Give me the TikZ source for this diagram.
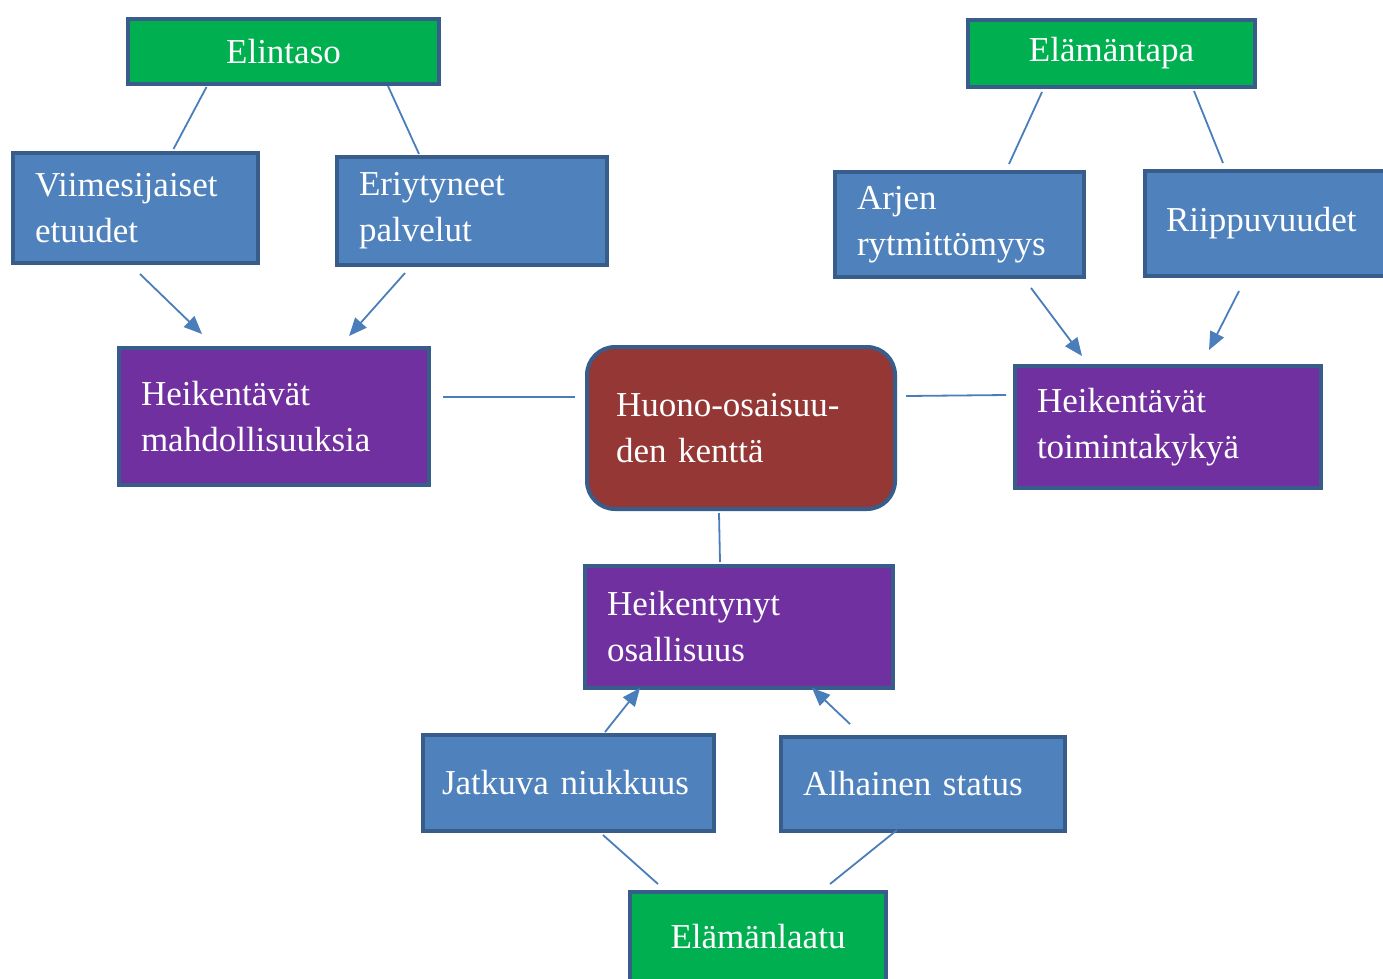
\documentclass[tikz,border=0pt]{standalone}
\usepackage{fontspec}
\setmainfont{Liberation Serif}
\usetikzlibrary{arrows.meta,calc}
\definecolor{frame}{HTML}{385D8A}
\definecolor{conn}{HTML}{4A7EBB}
\definecolor{bgreen}{HTML}{00B050}
\definecolor{bblue}{HTML}{4F81BD}
\definecolor{bpurple}{HTML}{7030A0}
\definecolor{bred}{HTML}{953735}

\begin{document}
\begin{tikzpicture}[x=1pt,y=-1pt,
    box/.style={draw=frame, line width=4pt, text=white, inner xsep=22pt, inner ysep=0pt,
        font=\fontsize{35}{46}\selectfont},
    topbox/.style={box, fill=bgreen, align=center},
    subbox/.style={box, fill=bblue, align=left},
    effbox/.style={box, fill=bpurple, align=left},
    link/.style={conn, line width=1.8pt},
    arr/.style={link, -{Triangle[length=18pt,width=15pt]}}]

    \useasboundingbox (0,0) rectangle (1383,978);

    \node[topbox, minimum width=311pt, minimum height=65pt] (elintaso) at (283.5,51.5) {Elintaso};
    \node[subbox, minimum width=245pt, minimum height=110pt, text width=201pt] (viim) at (135.5,208) {Viimesijaiset\\etuudet};
    \node[subbox, minimum width=270pt, minimum height=108pt, text width=226pt] (eriy) at (472,211) {Eriytyneet\\palvelut};
    \node[effbox, minimum width=310pt, minimum height=137pt, text width=266pt] (mahd) at (274,416.5) {Heikentävät\\mahdollisuuksia};

    \node[box, fill=bred, rounded corners=28pt, align=left, inner xsep=29pt,
          minimum width=308pt, minimum height=162pt, text width=250pt] (kentta) at (741,428) {Huono-osaisuu-\\den kenttä};

    \node[topbox, minimum width=287pt, minimum height=67pt] (tapa) at (1111.5,53.5) {Elämäntapa};
    \node[subbox, minimum width=249pt, minimum height=105pt, text width=205pt] (arjen) at (959.5,224.5) {Arjen\\rytmittömyys};
    \node[subbox, minimum width=250pt, minimum height=105pt, text width=208pt, inner xsep=21pt] (riipp) at (1270,223.5) {Riippuvuudet};
    \node[effbox, minimum width=306pt, minimum height=122pt, text width=262pt] (toim) at (1168,427) {Heikentävät\\toimintakykyä};

    \node[effbox, minimum width=308pt, minimum height=122pt, text width=264pt] (osall) at (739,627) {Heikentynyt\\osallisuus};
    \node[subbox, minimum width=291pt, minimum height=96pt, text width=253pt, inner xsep=19pt] (niuk) at (568.5,783) {Jatkuva niukkuus};
    \node[subbox, minimum width=284pt, minimum height=94pt, text width=240pt] (status) at (923,784) {Alhainen status};
    \node[topbox, minimum width=256pt, minimum height=90pt] (laatu) at (758,937) {Elämänlaatu};

    % elintaso
    \draw[link] ($(elintaso.south)+(-77,1)$) -- ($(viim.north)+(38,-2)$);
    \draw[link] ($(elintaso.south)+(104.5,0)$) -- ($(eriy.north)+(-53,-1)$);
    \draw[arr] ($(viim.south)+(4.5,9)$) -- ($(mahd.north)+(-72,-12)$);
    \draw[arr] ($(eriy.south)+(-67,6)$) -- ($(mahd.north)+(75,-10)$);
    \draw[link] ($(mahd.east)+(12,-19.5)$) -- ($(kentta.west)+(-10,-31)$);

    % elamantapa
    \draw[link] ($(tapa.south)+(-69.5,3)$) -- ($(arjen.north)+(49.5,-6)$);
    \draw[link] ($(tapa.south)+(82.5,2)$) -- ($(riipp.north)+(-47,-6)$);
    \draw[arr] ($(arjen.south)+(71.5,9)$) -- ($(toim.north)+(-86,-8)$);
    \draw[arr] ($(riipp.south)+(-31,13)$) -- ($(toim.north)+(41,-14)$);
    \draw[link] ($(kentta.east)+(9,-32)$) -- ($(toim.west)+(-7,-32)$);

    % elamanlaatu
    \draw[link] ($(kentta.south)+(-22,2)$) -- ($(osall.north)+(-19,-2)$);
    \draw[arr] ($(niuk.north)+(36.5,-1)$) -- ($(osall.south)+(-99,-2)$);
    \draw[arr] ($(status.north)+(-73,-11)$) -- ($(osall.south)+(73,-2)$);
    \draw[link] ($(laatu.north)+(-100,-6)$) -- ($(niuk.south)+(34.5,2)$);
    \draw[link] ($(laatu.north)+(72,-6)$) -- ($(status.south)+(-26,-3)$);

\end{tikzpicture}
\end{document}
